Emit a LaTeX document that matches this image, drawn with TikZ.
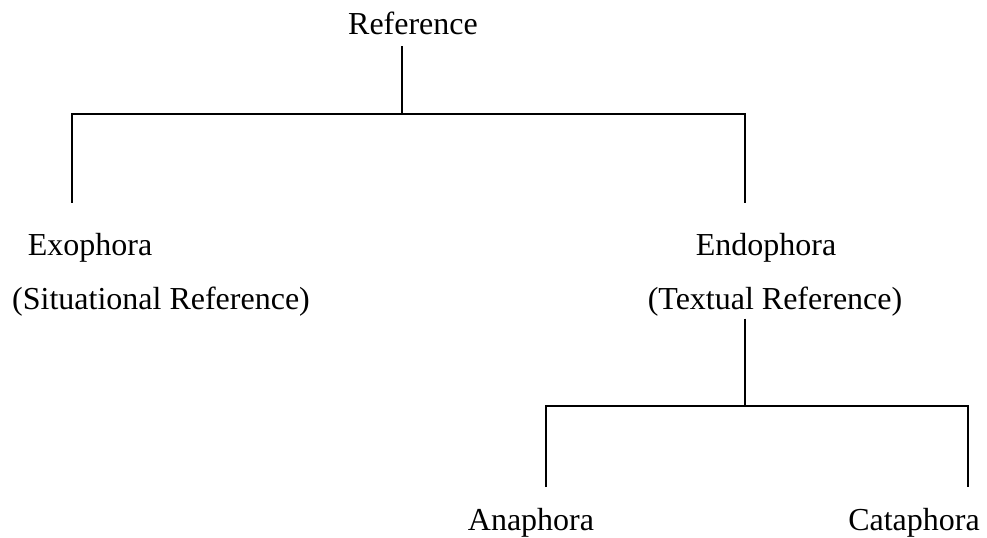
\documentclass[tikz,border=0pt]{standalone}
\usepackage{fontspec}
\setmainfont{Liberation Serif}
\usetikzlibrary{calc}
\begin{document}
\begin{tikzpicture}[x=0.75pt,y=-0.75pt]
      \tikzstyle{label}=[
        anchor=base,
        inner sep=2pt,
        font=\fontsize{24}{28}\selectfont,
      ]
      \tikzstyle{edge} = [
        line width=1.3pt,
        draw=black,
      ]
      
      \useasboundingbox (0,0) rectangle (987,538);
      
      % root
      \node[label] (reference) at (413,35) {Reference};
      
      % first layer
      \node[label] (exo) at (90,255) {Exophora};
      \node[label] (exosub) at (161,309) {(Situational Reference)};
      \node[label] (endo) at (766,255) {Endophora};
      \node[label] (endosub) at (775,309) {(Textual Reference)};
      
      % second layer
      \node[label] (ana) at (531,530) {Anaphora};
      \node[label] (cata) at (914,530) {Cataphora};
      
      % junctions
      \coordinate (jI) at (402,114);
      \coordinate (lI) at (72,203);
      \coordinate (rI) at (745,203);
      \coordinate (jII) at (745,406);
      \coordinate (lII) at (546,487);
      \coordinate (rII) at (968,487);
      
      \draw[edge] ([yshift=-6pt] reference.south -| jI) -- (jI);
      \draw[edge] (lI) |- (jI) -| (rI);
      
      \draw[edge] (endosub.south -| jII) -- (jII);
      \draw[edge] (lII) |- (jII) -| (rII);
    \end{tikzpicture}
\end{document}
